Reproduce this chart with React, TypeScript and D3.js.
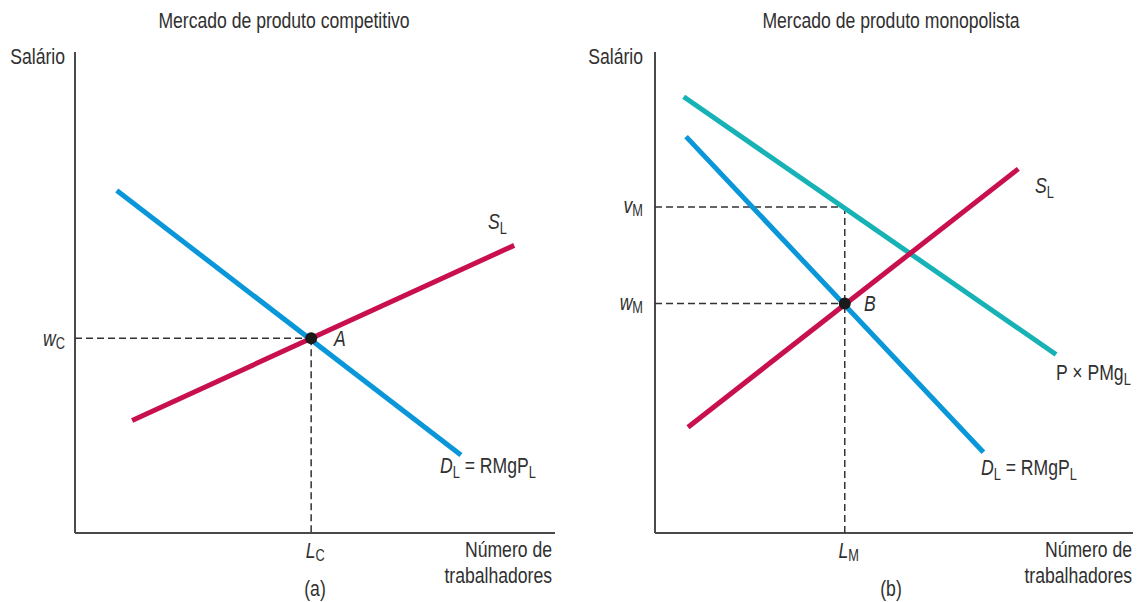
import React from "react";
import * as d3 from "d3";

// ---- data (abstract units 0..100 on each axis) ----
const demandA = [
  { x: 8.7, y: 71.2 },
  { x: 80.4, y: 16.2 },
];
const supplyA = [
  { x: 11.9, y: 23.4 },
  { x: 91.5, y: 59.8 },
];
const equilibriumA = { x: 49.2, y: 40.5 };

const valueB = [
  { x: 6.0, y: 90.7 },
  { x: 83.9, y: 37.1 },
];
const demandB = [
  { x: 6.5, y: 82.4 },
  { x: 68.7, y: 16.8 },
];
const supplyB = [
  { x: 6.9, y: 22.0 },
  { x: 76.0, y: 75.7 },
];
const equilibriumB = { x: 39.7, y: 47.7 };
const vM = 67.8;

const titles = ["Mercado de produto competitivo", "Mercado de produto monopolista"];
const panelTags = ["(a)", "(b)"];

const FONT = "'Liberation Sans', Arial, sans-serif";
const BLUE = "#0a97d9";
const RED = "#c8104f";
const TEAL = "#17b2b6";
const TEXT = "#303030";
const AXIS = "#4a4a4a";
const SX = 0.8;
const FS = 22;
const SUB = 16;

type P = { x: number; y: number };

function T({ x, y, anchor = "start", italic = false, size = FS, children }: any) {
  return (
    <text
      transform={`translate(${x},${y}) scale(${SX},1)`}
      textAnchor={anchor}
      fontSize={size}
      fontStyle={italic ? "italic" : "normal"}
    >
      {children}
    </text>
  );
}

export default function App() {
  const yTop = 52;
  const yBottom = 533;
  const xA = d3.scaleLinear().domain([0, 100]).range([75, 555]);
  const xB = d3.scaleLinear().domain([0, 100]).range([655, 1133]);
  const y = d3.scaleLinear().domain([0, 100]).range([yBottom, yTop]);

  const lineA = d3.line<P>().x((d) => xA(d.x)).y((d) => y(d.y));
  const lineB = d3.line<P>().x((d) => xB(d.x)).y((d) => y(d.y));

  const dash = "7 4";

  return (
    <svg
      width={1138}
      height={602}
      style={{ position: "absolute", left: 0, top: 0, background: "#fff" }}
      fontFamily={FONT}
      fill={TEXT}
    >
      {/* ---------- Panel A ---------- */}
      <T x={284} y={28} anchor="middle">{titles[0]}</T>
      <T x={65} y={64} anchor="end">Salário</T>
      <line x1={xA(0)} x2={xA(0)} y1={yTop} y2={yBottom} stroke={AXIS} strokeWidth={2} />
      <line x1={xA(0)} x2={xA(100)} y1={yBottom} y2={yBottom} stroke={AXIS} strokeWidth={2} />

      <line x1={xA(0)} x2={xA(equilibriumA.x)} y1={y(equilibriumA.y)} y2={y(equilibriumA.y)}
        stroke="#333" strokeWidth={1.5} strokeDasharray={dash} />
      <line x1={xA(equilibriumA.x)} x2={xA(equilibriumA.x)} y1={y(equilibriumA.y)} y2={yBottom}
        stroke="#333" strokeWidth={1.5} strokeDasharray={dash} />

      <path d={lineA(demandA) || ""} stroke={BLUE} strokeWidth={5} fill="none" />
      <path d={lineA(supplyA) || ""} stroke={RED} strokeWidth={5} fill="none" />
      <circle cx={xA(equilibriumA.x)} cy={y(equilibriumA.y)} r={6} fill="#1a1a1a" />

      <T x={65} y={346} anchor="end">
        <tspan fontStyle="italic">w</tspan>
        <tspan fontSize={SUB} dy={3}>C</tspan>
      </T>
      <T x={334} y={346} italic>A</T>
      <T x={488} y={229}>
        <tspan fontStyle="italic">S</tspan>
        <tspan fontSize={SUB} dy={5}>L</tspan>
      </T>
      <T x={440} y={473}>
        <tspan fontStyle="italic">D</tspan>
        <tspan fontSize={SUB} dy={5}>L</tspan>
        <tspan dy={-5}> = RMgP</tspan>
        <tspan fontSize={SUB} dy={5}>L</tspan>
      </T>
      <T x={xA(equilibriumA.x) + 4} y={558} anchor="middle">
        <tspan fontStyle="italic">L</tspan>
        <tspan fontSize={SUB} dy={3}>C</tspan>
      </T>
      <T x={552} y={557} anchor="end">Número de</T>
      <T x={552} y={583} anchor="end">trabalhadores</T>
      <T x={315} y={596} anchor="middle">{panelTags[0]}</T>

      {/* ---------- Panel B ---------- */}
      <T x={891} y={28} anchor="middle">{titles[1]}</T>
      <T x={643} y={64} anchor="end">Salário</T>
      <line x1={xB(0)} x2={xB(0)} y1={yTop} y2={yBottom} stroke={AXIS} strokeWidth={2} />
      <line x1={xB(0)} x2={xB(100)} y1={yBottom} y2={yBottom} stroke={AXIS} strokeWidth={2} />

      <line x1={xB(0)} x2={xB(equilibriumB.x)} y1={y(vM)} y2={y(vM)}
        stroke="#333" strokeWidth={1.5} strokeDasharray={dash} />
      <line x1={xB(0)} x2={xB(equilibriumB.x)} y1={y(equilibriumB.y)} y2={y(equilibriumB.y)}
        stroke="#333" strokeWidth={1.5} strokeDasharray={dash} />
      <line x1={xB(equilibriumB.x)} x2={xB(equilibriumB.x)} y1={y(vM)} y2={yBottom}
        stroke="#333" strokeWidth={1.5} strokeDasharray={dash} />

      <path d={lineB(valueB) || ""} stroke={TEAL} strokeWidth={5} fill="none" />
      <path d={lineB(demandB) || ""} stroke={BLUE} strokeWidth={5} fill="none" />
      <path d={lineB(supplyB) || ""} stroke={RED} strokeWidth={5} fill="none" />
      <circle cx={xB(equilibriumB.x)} cy={y(equilibriumB.y)} r={6} fill="#1a1a1a" />

      <T x={643} y={213} anchor="end">
        <tspan fontStyle="italic">v</tspan>
        <tspan fontSize={SUB} dy={3}>M</tspan>
      </T>
      <T x={643} y={310} anchor="end">
        <tspan fontStyle="italic">w</tspan>
        <tspan fontSize={SUB} dy={3}>M</tspan>
      </T>
      <T x={864} y={311} italic>B</T>
      <T x={1035} y={193}>
        <tspan fontStyle="italic">S</tspan>
        <tspan fontSize={SUB} dy={5}>L</tspan>
      </T>
      <T x={1056} y={380}>
        <tspan>P × PMg</tspan>
        <tspan fontSize={SUB} dy={5}>L</tspan>
      </T>
      <T x={981} y={475}>
        <tspan fontStyle="italic">D</tspan>
        <tspan fontSize={SUB} dy={5}>L</tspan>
        <tspan dy={-5}> = RMgP</tspan>
        <tspan fontSize={SUB} dy={5}>L</tspan>
      </T>
      <T x={xB(equilibriumB.x) + 4} y={558} anchor="middle">
        <tspan fontStyle="italic">L</tspan>
        <tspan fontSize={SUB} dy={3}>M</tspan>
      </T>
      <T x={1132} y={557} anchor="end">Número de</T>
      <T x={1132} y={583} anchor="end">trabalhadores</T>
      <T x={891} y={596} anchor="middle">{panelTags[1]}</T>
    </svg>
  );
}
